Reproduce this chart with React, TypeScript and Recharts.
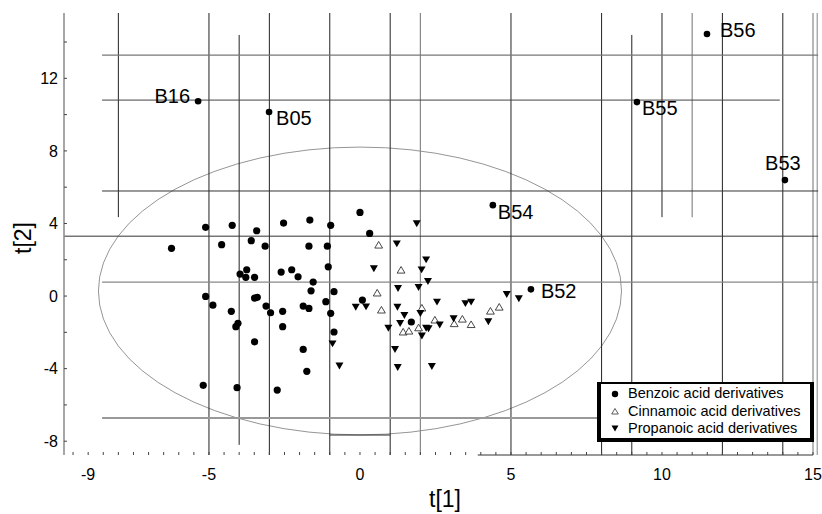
import React from 'react';
import {
  ScatterChart,
  Scatter,
  XAxis,
  YAxis,
  ReferenceLine,
  ReferenceArea,
  Legend,
} from 'recharts';

// ---------- data ----------
const benzoic = [
  { x: -6.24, y: 2.63 }, { x: -5.11, y: 3.79 }, { x: -4.23, y: 3.9 }, { x: -3.42, y: 3.6 },
  { x: -2.53, y: 4.02 }, { x: -1.66, y: 4.19 }, { x: -0.97, y: 3.9 }, { x: 0.0, y: 4.61 },
  { x: 0.32, y: 3.45 }, { x: -4.58, y: 2.83 }, { x: -3.6, y: 3.05 }, { x: -3.14, y: 2.75 },
  { x: -1.69, y: 2.75 }, { x: -1.08, y: 2.75 }, { x: -3.97, y: 1.21 }, { x: -3.75, y: 1.45 },
  { x: -3.78, y: 1.03 }, { x: -3.49, y: 1.03 }, { x: -2.61, y: 1.32 }, { x: -2.26, y: 1.45 },
  { x: -2.05, y: 1.06 }, { x: -1.55, y: 0.77 }, { x: -1.05, y: 1.61 }, { x: -5.11, y: -0.02 },
  { x: -4.87, y: -0.5 }, { x: -4.26, y: -0.84 }, { x: -3.49, y: -0.11 }, { x: -3.4, y: -0.07 },
  { x: -3.11, y: -0.55 }, { x: -2.96, y: -0.92 }, { x: -2.56, y: -0.84 }, { x: -1.62, y: 0.29 },
  { x: -0.86, y: 0.24 }, { x: -1.13, y: -0.31 }, { x: -1.88, y: -0.55 }, { x: -1.69, y: -0.68 },
  { x: -0.97, y: -0.95 }, { x: -4.11, y: -1.69 }, { x: -4.04, y: -1.5 }, { x: -2.56, y: -1.69 },
  { x: -0.86, y: -1.98 }, { x: -3.49, y: -2.52 }, { x: -1.88, y: -2.94 }, { x: -1.76, y: -4.15 },
  { x: -5.19, y: -4.92 }, { x: -4.07, y: -5.05 }, { x: -2.74, y: -5.18 }, { x: 0.08, y: -0.22 },
  { x: 1.7, y: -1.43 },
];

const benzoicLabeled = [
  { name: 'B16', x: -5.36, y: 10.74 },
  { name: 'B05', x: -3.01, y: 10.14 },
  { name: 'B56', x: 11.49, y: 14.44 },
  { name: 'B55', x: 9.17, y: 10.69 },
  { name: 'B53', x: 14.07, y: 6.39 },
  { name: 'B54', x: 4.4, y: 5.01 },
  { name: 'B52', x: 5.66, y: 0.37 },
];

const cinnamoic = [
  { x: 0.62, y: 2.81 }, { x: 1.36, y: 1.43 }, { x: 0.57, y: 0.17 }, { x: 0.71, y: -0.77 },
  { x: 2.05, y: -0.66 }, { x: 2.48, y: -1.32 }, { x: 1.94, y: -1.75 }, { x: 1.43, y: -1.98 },
  { x: 1.62, y: -1.93 }, { x: 3.12, y: -1.52 }, { x: 3.39, y: -1.27 }, { x: 3.68, y: -1.57 },
  { x: 4.32, y: -0.83 }, { x: 4.61, y: -0.61 },
];

const propanoic = [
  { x: 1.88, y: 4.01 }, { x: 1.22, y: 2.9 }, { x: 2.19, y: 2.02 }, { x: 0.46, y: 1.53 },
  { x: 2.04, y: 1.47 }, { x: 2.25, y: 0.83 }, { x: 1.26, y: 0.44 }, { x: 1.94, y: 0.5 },
  { x: -0.14, y: -0.59 }, { x: 0.2, y: -0.57 }, { x: 1.24, y: -0.59 }, { x: 2.55, y: -0.31 },
  { x: 1.47, y: -1.05 }, { x: 2.0, y: -0.94 }, { x: 3.49, y: -0.39 }, { x: 3.68, y: -0.31 },
  { x: 0.94, y: -1.75 }, { x: 1.33, y: -1.49 }, { x: 2.19, y: -1.75 }, { x: 2.27, y: -1.78 },
  { x: 2.05, y: -2.18 }, { x: 2.64, y: -1.57 }, { x: 3.1, y: -1.23 }, { x: 4.25, y: -1.39 },
  { x: 4.86, y: 0.11 }, { x: 5.26, y: -0.12 }, { x: 1.16, y: -2.92 }, { x: 1.25, y: -3.91 },
  { x: 2.38, y: -3.86 }, { x: -0.68, y: -3.83 }, { x: -0.91, y: -2.61 },
];

const seriesNames = [
  'Benzoic acid derivatives',
  'Cinnamoic acid derivatives',
  'Propanoic acid derivatives',
];

const xTickLabels = [-9, -5, 0, 5, 10, 15];
const yTickLabels = [-8, -4, 0, 4, 8, 12];

// ---------- layout ----------
const W = 822;
const H = 514;
const X_DOMAIN: [number, number] = [-9.8, 15];
const Y_DOMAIN: [number, number] = [-8.76, 15.6];
const YT = Y_DOMAIN[1];
const YB = Y_DOMAIN[0];

const xMinorTicks: number[] = [];
for (let v = -9.5; v <= 15.001; v += 0.5) xMinorTicks.push(Math.round(v * 10) / 10);
const yMinorTicks: number[] = [];
for (let v = -8; v <= 14.001; v += 2) yMinorTicks.push(v);

// decorative guide lines of the original figure (data units)
const verticalGuides: [number, number, number, string, number][] = [
  [-8, YT, 4.35, '#222', 1],
  [-5, YT, YB, '#222', 1],
  [-4, 14.39, -8.2, '#222', 1],
  [-3, YT, YB, '#222', 1],
  [-1, YT, YB, '#222', 1],
  [1, YT, YB, '#222', 1],
  [2, YT, YB, '#888', 1.2],
  [5, YT, YB, '#222', 1],
  [8, YT, YB, '#222', 1],
  [9, 14.39, YB, '#222', 1],
  [10, YT, 4.35, '#222', 1],
  [11, YT, 4.35, '#999', 1.4],
  [12, YT, YB, '#222', 1],
  [14, YT, YB, '#222', 1],
  [15, YT, YB, '#888', 1.2],
  [15.14, YT, YB, '#999', 1.2],
];
const horizontalGuides: [number, number, number, string, number][] = [
  [13.28, -8.54, 15.17, '#777', 1.2],
  [10.8, -8.54, 13.9, '#444', 1],
  [5.79, -8.54, 15.17, '#333', 1],
  [3.3, -9.8, 15.17, '#333', 1],
  [0.77, -8.54, 15.17, '#888', 1.3],
  [-6.72, -8.54, 7.9, '#999', 2],
  [-7.66, -1, 1, '#333', 1],
  [YB, 3.9, 15, '#333', 1],
];

const FONT = '"Liberation Sans", Arial, Helvetica, sans-serif';

// label placement for the annotated compounds
const labelPlacement: Record<string, { dx: number; dy: number; anchor: 'start' | 'end' | 'middle' }> = {
  B16: { dx: -8, dy: -5, anchor: 'end' },
  B05: { dx: 7, dy: 6, anchor: 'start' },
  B56: { dx: 13, dy: -4, anchor: 'start' },
  B55: { dx: 5, dy: 5.5, anchor: 'start' },
  B53: { dx: -2, dy: -17.5, anchor: 'middle' },
  B54: { dx: 5, dy: 6.5, anchor: 'start' },
  B52: { dx: 10, dy: 1.5, anchor: 'start' },
};

// ---------- shapes ----------
const DotShape = (p: any) => <circle cx={p.cx} cy={p.cy} r={3.6} fill="#000" />;

const LabeledDot = (p: any) => {
  const name = p.payload?.name ?? p.name;
  const pl = labelPlacement[name] || { dx: 6, dy: 0, anchor: 'start' };
  return (
    <g>
      <circle cx={p.cx} cy={p.cy} r={3.3} fill="#000" />
      <text
        x={p.cx + pl.dx}
        y={p.cy + pl.dy + 7}
        textAnchor={pl.anchor}
        fontFamily={FONT}
        fontSize={20}
        fill="#000"
      >
        {name}
      </text>
    </g>
  );
};

const OpenTriShape = (p: any) => (
  <path
    d={`M${p.cx},${p.cy - 3.6}L${p.cx + 3.9},${p.cy + 3}L${p.cx - 3.9},${p.cy + 3}Z`}
    fill="#fff"
    stroke="#333"
    strokeWidth={0.9}
  />
);

const DownTriShape = (p: any) => (
  <path
    d={`M${p.cx - 4},${p.cy - 3}L${p.cx + 4},${p.cy - 3}L${p.cx},${p.cy + 3.9}Z`}
    fill="#000"
  />
);

const EllipseShape = (p: any) => {
  const { x, y, width, height } = p;
  return (
    <ellipse
      cx={x + width / 2}
      cy={y + height / 2}
      rx={Math.abs(width) / 2}
      ry={Math.abs(height) / 2}
      fill="none"
      stroke="#7a7a7a"
      strokeWidth={0.8}
    />
  );
};

const LegendBox = () => (
  <svg width={217} height={60} style={{ display: 'block' }}>
    <rect x={0} y={0} width={217} height={60} fill="#fff" />
    <line x1={0} y1={1} x2={217} y2={1} stroke="#000" strokeWidth={2} />
    <line x1={2} y1={0} x2={2} y2={60} stroke="#000" strokeWidth={4} />
    <line x1={215} y1={0} x2={215} y2={60} stroke="#000" strokeWidth={4} />
    <line x1={0} y1={58} x2={217} y2={58} stroke="#000" strokeWidth={4} />
    <circle cx={18} cy={12} r={3.2} fill="#000" />
    <path d="M18,26.5L21.3,32L14.7,32Z" fill="#fff" stroke="#333" strokeWidth={0.8} />
    <path d="M14.5,43.5L21.5,43.5L18,49.5Z" fill="#000" />
    {seriesNames.map((n, i) => (
      <text
        key={n}
        x={31}
        y={[11, 29, 46][i] + 5.2}
        fontFamily={FONT}
        fontSize={14.5}
        fill="#000"
      >
        {n}
      </text>
    ))}
  </svg>
);

export default function App() {
  return (
    <div style={{ position: 'absolute', left: 0, top: 0, width: W, height: H, background: '#fff' }}>
      <ScatterChart width={W} height={H} margin={{ top: 13, right: 9, left: 0, bottom: 0 }}>
        <XAxis
          type="number"
          dataKey="x"
          domain={X_DOMAIN}
          allowDataOverflow
          ticks={xMinorTicks}
          interval={0}
          tickFormatter={(v: number) => (xTickLabels.includes(v) ? String(v) : '')}
          axisLine={false}
          tickLine={{ stroke: '#444' }}
          tickSize={-3}
          tickMargin={17}
          height={59}
          tick={{ fill: '#000', fontSize: 16, fontFamily: FONT }}
          label={{
            content: () => (
              <text x={445} y={507} textAnchor="middle" fontFamily={FONT} fontSize={23} fill="#000">
                t[1]
              </text>
            ),
          }}
        />
        <YAxis
          type="number"
          dataKey="y"
          domain={Y_DOMAIN}
          allowDataOverflow
          ticks={yMinorTicks.concat(yTickLabels).filter((v, i, a) => a.indexOf(v) === i).sort((a, b) => a - b)}
          interval={0}
          tickFormatter={(v: number) => (yTickLabels.includes(v) ? String(v) : '')}
          axisLine={{ stroke: '#888', strokeWidth: 1.5 }}
          tickLine={{ stroke: '#444' }}
          tickSize={-3}
          tickMargin={9}
          width={64}
          tick={{ fill: '#000', fontSize: 16, fontFamily: FONT }}
          label={{
            content: () => (
              <text
                x={31}
                y={238}
                textAnchor="middle"
                fontFamily={FONT}
                fontSize={23}
                fill="#000"
                transform="rotate(-90 31 238)"
              >
                t[2]
              </text>
            ),
          }}
        />

        {verticalGuides.map(([x, y1, y2, c, w], i) => (
          <ReferenceLine
            key={'v' + i}
            segment={[{ x, y: y1 }, { x, y: y2 }]}
            stroke={c}
            strokeWidth={w}
            ifOverflow="visible"
          />
        ))}
        {horizontalGuides.map(([y, x1, x2, c, w], i) => (
          <ReferenceLine
            key={'h' + i}
            segment={[{ x: x1, y }, { x: x2, y }]}
            stroke={c}
            strokeWidth={w}
            ifOverflow="visible"
          />
        ))}

        <ReferenceArea x1={-8.66} x2={8.66} y1={-7.65} y2={8.21} shape={EllipseShape} ifOverflow="visible" />

        <Scatter name={seriesNames[0]} data={benzoic} shape={DotShape} isAnimationActive={false} />
        <Scatter name="labeled" data={benzoicLabeled} shape={LabeledDot} isAnimationActive={false} legendType="none" />
        <Scatter name={seriesNames[1]} data={cinnamoic} shape={OpenTriShape} isAnimationActive={false} />
        <Scatter name={seriesNames[2]} data={propanoic} shape={DownTriShape} isAnimationActive={false} />

        <Legend
          layout="vertical"
          align="center"
          verticalAlign="middle"
          wrapperStyle={{ left: 597, top: 382, width: 217, height: 60, margin: 0, padding: 0 }}
          content={() => <LegendBox />}
        />
      </ScatterChart>
    </div>
  );
}
